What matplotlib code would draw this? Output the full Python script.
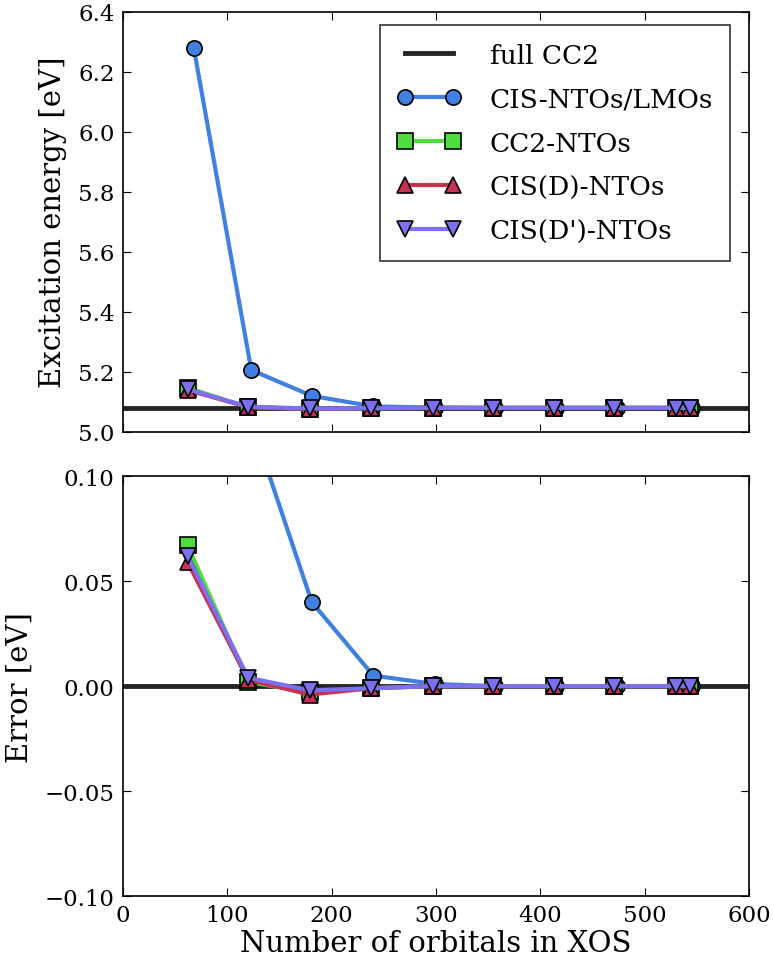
import numpy as np
import matplotlib.pyplot as plt

plt.rcParams['font.family'] = ['DejaVu Serif']
plt.rcParams['mathtext.fontset'] = 'dejavuserif'

# Datos
full_cc2 = 5.08

x_lmo = [68, 123, 181, 240, 299, 357, 415, 473, 532, 545]
e_lmo = [6.277, 5.206, 5.120, 5.085, 5.081, 5.080, 5.080, 5.080, 5.080, 5.080]
err_lmo = [1.197, 0.126, 0.040, 0.005, 0.001, 0.0, 0.0, 0.0, 0.0, 0.0]

x_nto = [62, 120, 179, 238, 297, 355, 413, 471, 530, 543]
e_cc2 = [5.147, 5.082, 5.077, 5.079, 5.080, 5.080, 5.080, 5.080, 5.080, 5.080]
err_cc2 = [0.067, 0.002, -0.003, -0.001, 0.0, 0.0, 0.0, 0.0, 0.0, 0.0]
e_cisd = [5.139, 5.083, 5.076, 5.079, 5.080, 5.080, 5.080, 5.080, 5.080, 5.080]
err_cisd = [0.059, 0.003, -0.004, -0.001, 0.0, 0.0, 0.0, 0.0, 0.0, 0.0]
e_cisdp = [5.142, 5.084, 5.078, 5.079, 5.080, 5.080, 5.080, 5.080, 5.080, 5.080]
err_cisdp = [0.062, 0.004, -0.002, -0.001, 0.0, 0.0, 0.0, 0.0, 0.0, 0.0]

labels = ['full CC2', 'CIS-NTOs/LMOs', 'CC2-NTOs', 'CIS(D)-NTOs', "CIS(D')-NTOs"]
c_full = '#262626'
c_lmo = '#4080e2'
c_cc2 = '#4edc3e'
c_cisd = '#c93150'
c_cisdp = '#7b70ef'

fig = plt.figure(figsize=(7.73, 9.62), dpi=100)
ax1 = fig.add_axes([0.159, 0.55, 0.81, 0.437])
ax2 = fig.add_axes([0.159, 0.0675, 0.81, 0.4365])

estilo = dict(linewidth=3, markersize=11, markeredgecolor='black', markeredgewidth=1.2)

def dibujar(ax, ref, ys):
    ax.axhline(ref, color=c_full, linewidth=3.5, label=labels[0])
    ax.plot(x_lmo, ys[0], marker='o', color=c_lmo, label=labels[1], **estilo)
    ax.plot(x_nto, ys[1], marker='s', color=c_cc2, label=labels[2], **estilo)
    ax.plot(x_nto, ys[2], marker='^', color=c_cisd, label=labels[3], **estilo)
    ax.plot(x_nto, ys[3], marker='v', color=c_cisdp, label=labels[4], **estilo)

dibujar(ax1, full_cc2, [e_lmo, e_cc2, e_cisd, e_cisdp])
dibujar(ax2, 0.0, [err_lmo, err_cc2, err_cisd, err_cisdp])

for ax in (ax1, ax2):
    ax.set_xlim(0, 600)
    ax.tick_params(direction='in', top=True, right=True, labelsize=16.5, length=6, pad=6)
    for s in ax.spines.values():
        s.set_linewidth(1.2)

ax1.set_ylim(5.0, 6.4)
ax1.set_yticks(np.arange(5.0, 6.41, 0.2))
ax1.set_yticklabels(['%.1f' % v for v in np.arange(5.0, 6.41, 0.2)])
ax1.set_xticks(range(0, 601, 100))
ax1.tick_params(labelbottom=False)
ax1.set_ylabel('Excitation energy [eV]', fontsize=21, labelpad=8)

ax2.set_ylim(-0.10, 0.10)
ax2.set_yticks([-0.10, -0.05, 0.0, 0.05, 0.10])
ax2.set_yticklabels(['\u22120.10', '\u22120.05', '0.00', '0.05', '0.10'])
ax2.set_xticks(range(0, 601, 100))
ax2.set_ylabel('Error [eV]', fontsize=21, labelpad=8)
ax2.set_xlabel('Number of orbitals in XOS', fontsize=21, labelpad=2)

leg = ax1.legend(loc='upper right', fontsize=19, frameon=True, fancybox=False,
                 numpoints=2, handlelength=2.4, handletextpad=1.1,
                 borderpad=0.65, labelspacing=0.72, borderaxespad=0,
                 bbox_to_anchor=(0.97, 0.967))
leg.get_frame().set_edgecolor('black')
leg.get_frame().set_linewidth(1.2)

fig.savefig('out.png', dpi=100)
